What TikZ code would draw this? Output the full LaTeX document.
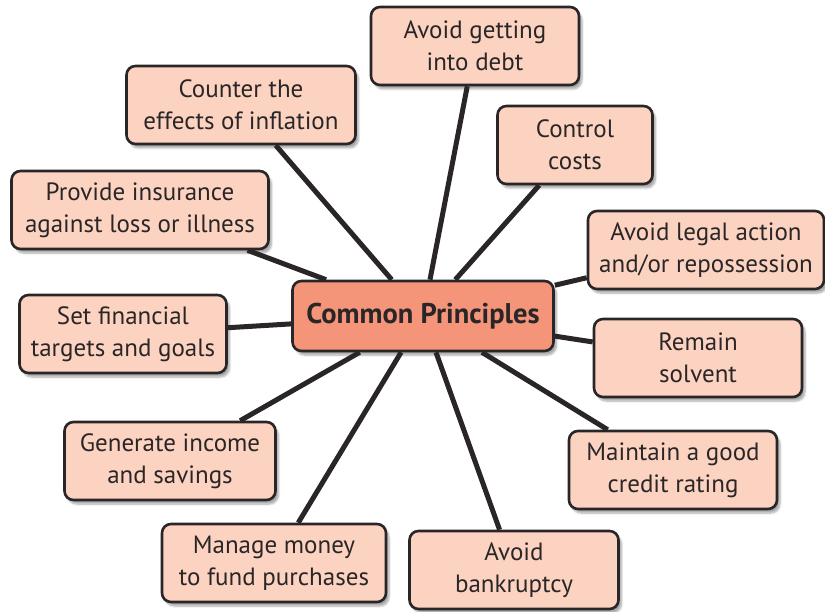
\documentclass[tikz,border=0pt]{standalone}
\usepackage{fontspec}
\setmainfont{PT Sans}
\usetikzlibrary{shadows.blur}

\definecolor{boxfill}{HTML}{FCD3C1}
\definecolor{corefill}{HTML}{F4957A}
\definecolor{edge}{HTML}{2A2627}

\begin{document}
\begin{tikzpicture}[
    x=1pt, y=-1pt,
    aim/.style={draw=edge, rounded corners=9pt, line width=2.6pt, fill=boxfill,
        align=center, minimum height=78pt, inner sep=2pt,
        font=\fontsize{25}{32}\selectfont\color{edge},
        blur shadow={shadow xshift=3pt, shadow yshift=-4pt, shadow blur steps=6, shadow opacity=35}},
    core/.style={aim, fill=corefill, minimum height=70pt,
        font=\fontsize{28.5}{32}\selectfont\bfseries\color{edge}},
    spoke/.style={draw=edge, line width=5pt}
]
    \useasboundingbox (0,0) rectangle (825,612);

    % Centre
    \node[core, minimum width=261pt] (cp) at (423,316) {Common Principles};

    % Aims round the centre
    \node[aim, minimum width=208pt] (debt) at (475,46) {Avoid getting\\into debt};
    \node[aim, minimum width=229pt] (inflation) at (241,105) {Counter the\\effects of inflation};
    \node[aim, minimum width=155pt] (costs) at (575,145) {Control\\costs};
    \node[aim, minimum width=257pt] (insurance) at (140,210) {Provide insurance\\against loss or illness};
    \node[aim, minimum width=236pt] (legal) at (706,250) {Avoid legal action\\and/or repossession};
    \node[aim, minimum width=207pt] (targets) at (123,334) {Set financial\\targets and goals};
    \node[aim, minimum width=208pt] (solvent) at (698,358) {Remain\\solvent};
    \node[aim, minimum width=211pt] (income) at (170,461) {Generate income\\and savings};
    \node[aim, minimum width=208pt] (credit) at (673,470) {Maintain a good\\credit rating};
    \node[aim, minimum width=224pt] (purchases) at (274,563) {Manage money\\to fund purchases};
    \node[aim, minimum width=209pt] (bankruptcy) at (514,570) {Avoid\\bankruptcy};

    % Spokes
    \foreach \n in {debt, inflation, costs, insurance, legal, targets,
                    solvent, income, credit, purchases, bankruptcy}
        \draw[spoke] (cp) -- (\n);

\end{tikzpicture}
\end{document}
